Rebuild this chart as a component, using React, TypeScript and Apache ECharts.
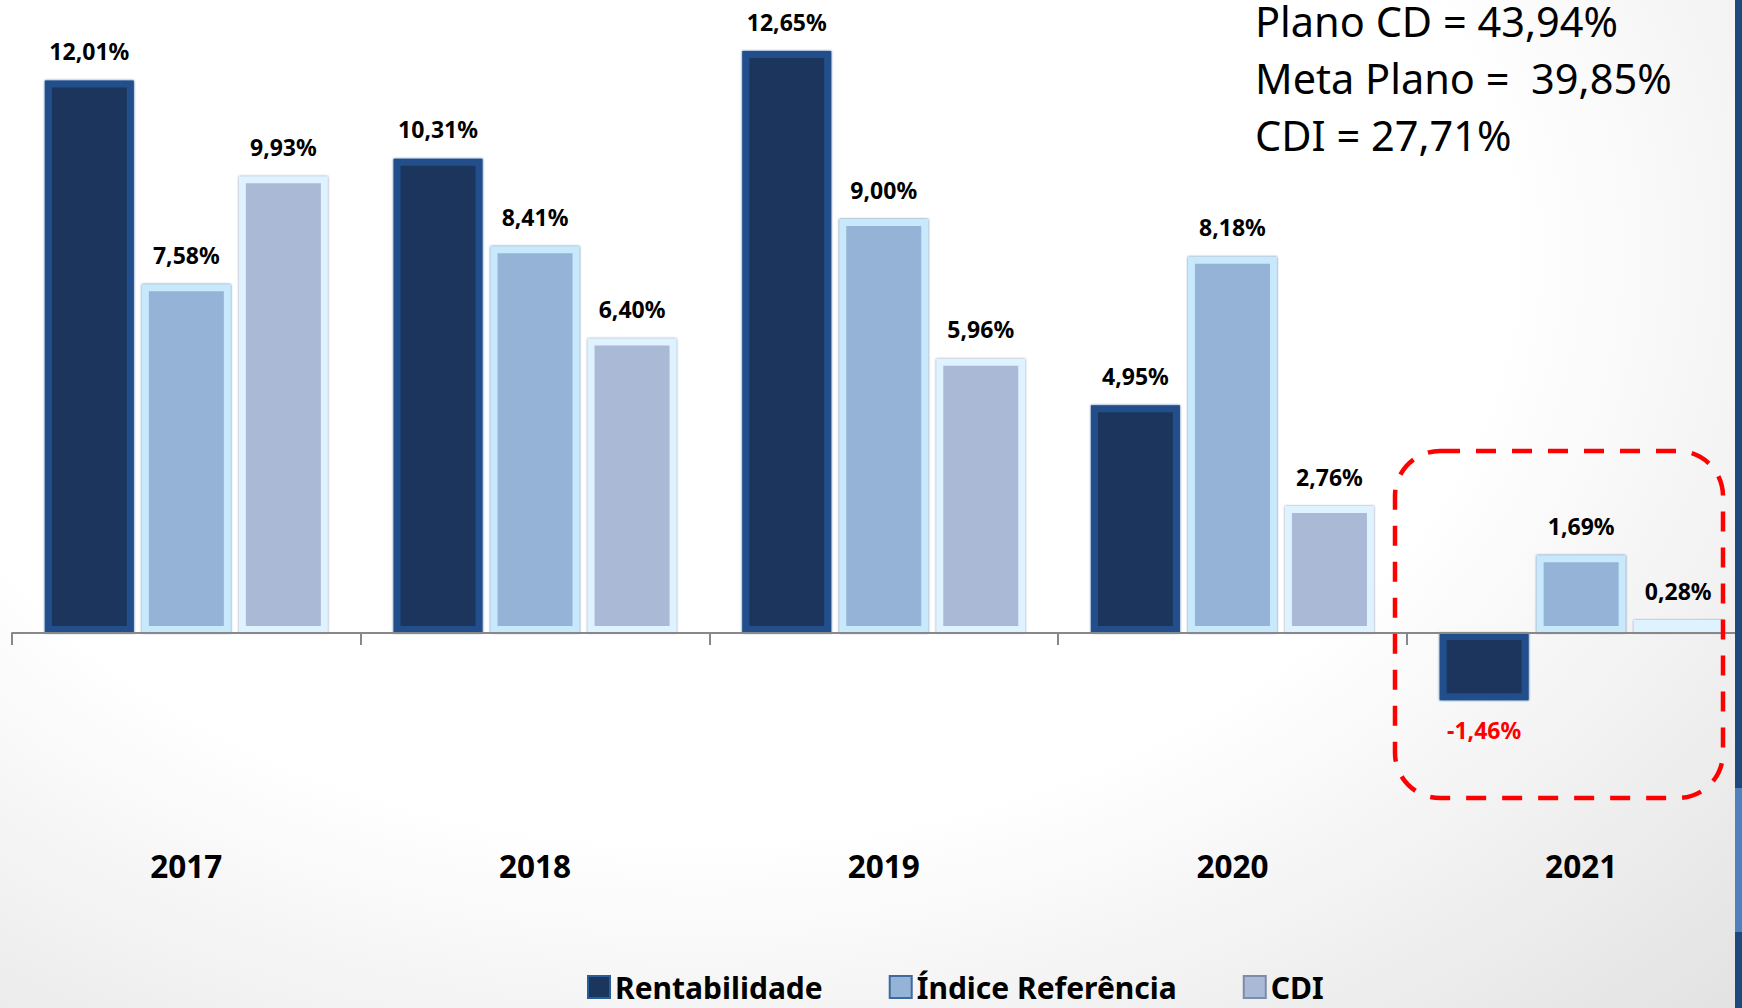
import React, { useEffect, useRef } from "react";
import * as echarts from "echarts";

const years = ["2017", "2018", "2019", "2020", "2021"];
const rentabilidade = [12.01, 10.31, 12.65, 4.95, -1.46];
const indiceReferencia = [7.58, 8.41, 9.0, 8.18, 1.69];
const cdi = [9.93, 6.4, 5.96, 2.76, 0.28];
const seriesNames = ["Rentabilidade", "Índice Referência", "CDI"];
const summaryLines = ["Plano CD = 43,94%", "Meta Plano =  39,85%", "CDI = 27,71%"];

const FONT = "'Noto Sans', 'Open Sans', sans-serif";

const fmt = (v: number) => v.toFixed(2).replace(".", ",") + "%";

function makeSeries(
  name: string,
  values: number[],
  fill: string,
  bevel: string,
  outline: string
) {
  return {
    type: "bar",
    name,
    barWidth: 89,
    barGap: "9%",
    z: 2,
    data: values.map((v) =>
      v < 0
        ? { value: v, label: { position: "bottom", color: "#ff0000" } }
        : v
    ),
    itemStyle: {
      color: fill,
      borderColor: bevel,
      borderWidth: 7,
      shadowBlur: 2,
      shadowColor: outline,
    },
    label: {
      show: true,
      position: "top",
      distance: 18,
      formatter: (p: any) => fmt(p.value),
      fontFamily: FONT,
      fontWeight: "bold",
      fontSize: 23,
      color: "#000",
    },
  };
}

export default function App() {
  const ref = useRef<HTMLDivElement>(null);

  useEffect(() => {
    document.body.style.margin = "0";
    if (!ref.current) return;
    const chart = echarts.init(ref.current, undefined, { renderer: "svg" });
    const styles = [
      { fill: "#1a365d", bevel: "#22508b", outline: "#2a5d9a", legendBorder: "#2a5d9a" },
      { fill: "#95b3d7", bevel: "#c8e9fc", outline: "#3d6aa0", legendBorder: "#3d6aa0" },
      { fill: "#aab9d6", bevel: "#def2ff", outline: "#7d8ca8", legendBorder: "#7d8ca8" },
    ];
    const allValues = [rentabilidade, indiceReferencia, cdi];

    chart.setOption({
      animation: false,
      grid: {
        left: 12,
        right: -13.5,
        top: 35,
        bottom: 191,
        containLabel: false,
        outerBoundsMode: "none",
      },
      xAxis: {
        type: "category",
        data: years,
        z: 3,
        axisLine: { onZero: true, lineStyle: { color: "#888888", width: 2 } },
        axisTick: { show: true, length: 12, lineStyle: { color: "#888888", width: 2 } },
        axisLabel: {
          margin: 32,
          fontFamily: FONT,
          fontWeight: "bold",
          fontSize: 31.5,
          color: "#000",
        },
      },
      yAxis: { type: "value", min: -4, max: 13, show: false },
      legend: {
        left: 582,
        top: 967,
        icon: "rect",
        itemWidth: 22,
        itemHeight: 22,
        itemGap: 66,
        textStyle: { fontFamily: FONT, fontWeight: "bold", fontSize: 30, color: "#000" },
        data: seriesNames.map((n, i) => ({
          name: n,
          itemStyle: {
            color: styles[i].fill,
            borderColor: styles[i].legendBorder,
            borderWidth: 2,
          },
        })),
      },
      series: seriesNames.map((n, i) =>
        makeSeries(n, allValues[i], styles[i].fill, styles[i].bevel, styles[i].outline)
      ),
      graphic: [
        ...summaryLines.map((t, i) => ({
          type: "text",
          x: 1255,
          y: 21 + i * 57,
          z: 10,
          style: {
            text: t.replace(/  /g, "\u00a0 "),
            fontFamily: FONT,
            fontSize: 41.5,
            lineHeight: 36,
            fill: "#000",
            verticalAlign: "middle",
            align: "left",
          },
        })),
        {
          type: "rect",
          z: 10,
          shape: { x: 1395, y: 451, width: 328, height: 347, r: 45 },
          style: {
            fill: "none",
            stroke: "#ff0000",
            lineWidth: 4.5,
            lineDash: [20, 16],
          },
        },
        {
          type: "rect",
          z: 20,
          shape: { x: 1735, y: 0, width: 7, height: 788 },
          style: { fill: "#1f497d" },
        },
        {
          type: "rect",
          z: 20,
          shape: { x: 1735, y: 788, width: 7, height: 144 },
          style: { fill: "#4f81bd" },
        },
        {
          type: "rect",
          z: 20,
          shape: { x: 1735, y: 932, width: 7, height: 76 },
          style: { fill: "#1f497d" },
        },
      ],
    });
    return () => chart.dispose();
  }, []);

  return (
    <div
      ref={ref}
      style={{
        width: 1742,
        height: 1008,
        background:
          "radial-gradient(ellipse farthest-corner at 40% 25%, #ffffff 55%, #e2e2e2 100%)",
      }}
    />
  );
}
